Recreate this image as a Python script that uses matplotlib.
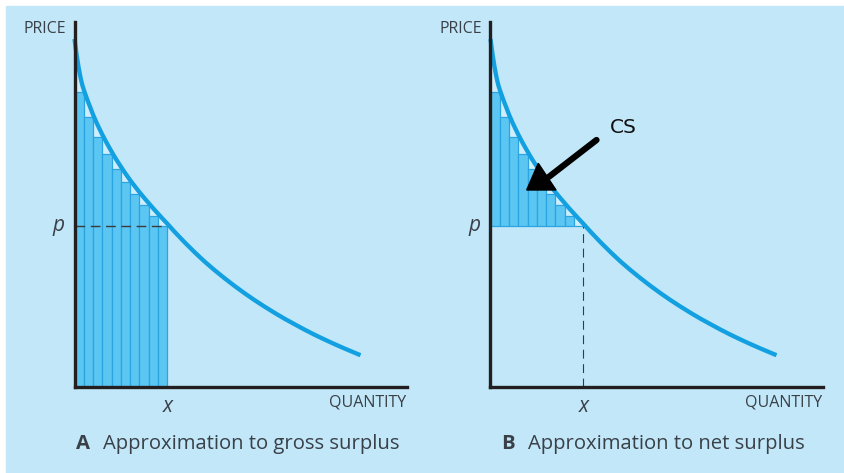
import matplotlib.pyplot as plt
from matplotlib.patches import Rectangle

# Demand curve (quantity, price in panel units)
curve_q = [0, 1, 2, 3, 4, 5, 6, 7, 8, 9.28, 11, 13, 15.5, 18.56, 22, 25,
           27.84, 32, 37.12, 41.5, 46.4, 51, 55.68, 60, 64.96, 69.5, 74.24,
           79, 83.52, 88, 92.8, 100, 110, 120, 130, 140, 150, 160, 170, 180,
           190, 200, 210, 220, 230, 240, 250, 260, 270, 280, 286]
curve_p = [348, 340.3, 333.1, 326.4, 320.3, 314.8, 309.7, 305.2, 301.3, 297.3,
           292.3, 286.7, 280.3, 272.3, 264.4, 258.1, 252.3, 244.4, 235.3,
           227.9, 220.3, 213.4, 206.8, 201.1, 194.8, 189.3, 183.8, 178.3,
           173.3, 168.4, 163.3, 155.3, 144.8, 134.9, 125.5, 116.9, 108.8,
           101.1, 93.8, 86.9, 80.4, 74.2, 68.3, 62.8, 57.4, 52.3, 47.5, 42.9,
           38.5, 34.3, 31.8]

# Step bars under the curve
bar_left = [0, 9.28, 18.56, 27.84, 37.12, 46.4, 55.68, 64.96, 74.24, 83.52]
bar_width = 9.28
bar_height = [295.3, 270.3, 250.3, 233.3, 218.3, 204.8, 192.8, 181.8, 171.3, 161.3]
x_star = 92.8
p_star = 161.3

captions = [("A", "Approximation to gross surplus"),
            ("B", "Approximation to net surplus")]

W, H = 844, 473
bg = "#c1e7f8"
curve_col = "#12a0e0"
bar_col = "#5cc6f3"
edge_col = "#2aa5e2"
light = "#cfeefb"
txt = "#3a4048"

plt.rcParams["font.family"] = ["Open Sans", "DejaVu Sans"]

fig = plt.figure(figsize=(W / 100, H / 100), dpi=100, facecolor="white")
fig.patches.append(Rectangle((6 / W, 0), 1 - 6 / W, 1 - 6 / H,
                             transform=fig.transFigure, color=bg, zorder=-10))

for i, y_left in enumerate([74.5, 490.5]):
    ax = fig.add_axes([y_left / W, 86 / H, 332 / W, 365 / H])
    ax.patch.set_alpha(0)
    ax.set_xlim(0, 332)
    ax.set_ylim(0, 365)
    for s in ["top", "right"]:
        ax.spines[s].set_visible(False)
    for s in ["left", "bottom"]:
        ax.spines[s].set_linewidth(2.4)
        ax.spines[s].set_color("#231f20")
        ax.spines[s].set_zorder(6)
    ax.set_xticks([])
    ax.set_yticks([])

    if i == 0:
        base = 0
        heights = bar_height
    else:
        base = p_star
        heights = [h - p_star for h in bar_height]

    # light area under the curve above the bars
    qs = [q for q in curve_q if q <= x_star]
    ps = curve_p[:len(qs)]
    ax.fill_between(qs, base, ps, color=light, lw=0, zorder=1)

    ax.bar(bar_left, heights, width=bar_width, bottom=base, align="edge",
           color=bar_col, edgecolor=edge_col, linewidth=0.9, zorder=2)

    ax.plot(curve_q, curve_p, color=curve_col, lw=3.1, zorder=4,
            solid_capstyle="butt", solid_joinstyle="round", clip_on=False)

    if i == 0:
        ax.plot([0, x_star], [p_star, p_star], color="#3b3b3b", lw=1.0,
                dashes=(7, 4), zorder=3)
    else:
        ax.plot([x_star, x_star], [0, p_star], color="#3b3b3b", lw=0.8,
                dashes=(8, 5), zorder=3)
        # hand-drawn CS arrow
        ax.plot([106, 53], [247, 206], color="black", lw=4.5,
                solid_capstyle="round", zorder=7)
        ax.fill([47.8, 36.2, 65.5], [223.7, 197, 197], color="black", zorder=7)
        ax.text(119, 250, "CS", fontsize=14.5, family="DejaVu Sans",
                color="#111111", ha="left", va="bottom")

    ax.text(-8, 358, "PRICE", fontsize=11.5, color=txt, ha="right",
            va="center")
    ax.text(332, -7, "QUANTITY", fontsize=11.5, color=txt, ha="right",
            va="top")
    ax.text(-10, p_star, "p", fontsize=15, style="italic", color=txt,
            ha="right", va="center")
    ax.text(x_star, -9, "x", fontsize=15, style="italic", color=txt,
            ha="center", va="top")

    letter, cap = captions[i]
    cx = [76, 501.5][i]
    fig.text(cx / W, 1 - 443.5 / H, letter, fontsize=14.6, weight="bold",
             color=txt, ha="left", va="center")
    fig.text((cx + 27) / W, 1 - 443.5 / H, cap, fontsize=14.6, color=txt,
             ha="left", va="center")

fig.savefig("out.png", dpi=100)
